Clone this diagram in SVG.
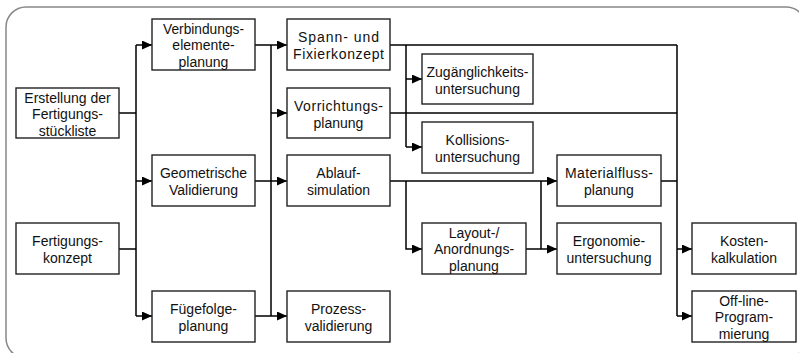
<svg xmlns="http://www.w3.org/2000/svg" width="799" height="353" viewBox="0 0 799 353">
<defs>
<marker id="ah" markerUnits="userSpaceOnUse" markerWidth="11" markerHeight="10" refX="10" refY="4.5" orient="auto">
<path d="M0,0 L10,4.5 L0,9 z" fill="#000"/>
</marker>
<style>
.n rect{fill:#fff;stroke:#222;stroke-width:1.4}
.n text{font-family:"Liberation Sans",Arial,sans-serif;font-size:14px;fill:#111;text-anchor:middle}
#conn path{fill:none;stroke:#000;stroke-width:1.5}
#conn .a{marker-end:url(#ah)}
</style>
</defs>
<rect x="6" y="7" width="800" height="351" rx="20" fill="#fff" stroke="#888" stroke-width="1.5"/>
<g id="conn">
<path d="M119 113 H136 M119 249 H136 M136 45 V316"/>
<path class="a" d="M136 45 H152"/>
<path class="a" d="M136 181 H152"/>
<path class="a" d="M136 316 H152"/>
<path d="M255 45 H271 M255 181 H271 M255 316 H271 M271 45 V316"/>
<path class="a" d="M271 45 H287"/>
<path class="a" d="M271 113 H287"/>
<path class="a" d="M271 181 H287"/>
<path class="a" d="M271 316 H287"/>
<path d="M390 45 H677 M390 113 H677 M406 45 V147"/>
<path class="a" d="M406 79 H422"/>
<path class="a" d="M406 147 H422"/>
<path class="a" d="M390 181 H557"/>
<path class="a" d="M406 181 V249 H422"/>
<path class="a" d="M526 249 H557"/>
<path d="M541 181 V249 M661 181 H677 M677 45 V316"/>
<path class="a" d="M677 249 H692"/>
<path class="a" d="M677 316 H692"/>
</g>
<g id="erstellung" class="n"><rect x="16" y="88" width="103" height="50"/><text x="67.5" y="102.5">Erstellung der<tspan x="67.5" y="119">Fertigungs-</tspan><tspan x="67.5" y="135.5">stückliste</tspan></text></g>
<g id="fertigungskonzept" class="n"><rect x="16" y="223" width="103" height="51"/><text x="67.5" y="246">Fertigungs-<tspan x="67.5" y="263">konzept</tspan></text></g>
<g id="verbindungs" class="n"><rect x="152" y="19" width="103" height="51"/><text x="203.5" y="33.5" textLength="81" lengthAdjust="spacingAndGlyphs">Verbindungs-</text><text x="203.5" y="50">elemente-</text><text x="203.5" y="66.5">planung</text></g>
<g id="geometrische" class="n"><rect x="152" y="155" width="103" height="51"/><text x="203.5" y="178">Geometrische<tspan x="203.5" y="195">Validierung</tspan></text></g>
<g id="fuegefolge" class="n"><rect x="152" y="291" width="103" height="51"/><text x="203.5" y="314">Fügefolge-<tspan x="203.5" y="331">planung</tspan></text></g>
<g id="spann" class="n"><rect x="287" y="19" width="103" height="51"/><text x="338.5" y="42" textLength="81" lengthAdjust="spacing">Spann- und</text><text x="338.5" y="59" textLength="91" lengthAdjust="spacing">Fixierkonzept</text></g>
<g id="vorrichtung" class="n"><rect x="287" y="88" width="103" height="50"/><text x="338.5" y="110.5" textLength="89" lengthAdjust="spacing">Vorrichtungs-</text><text x="338.5" y="127.5">planung</text></g>
<g id="ablauf" class="n"><rect x="287" y="155" width="103" height="51"/><text x="338.5" y="178">Ablauf-<tspan x="338.5" y="195">simulation</tspan></text></g>
<g id="prozess" class="n"><rect x="287" y="291" width="103" height="51"/><text x="338.5" y="314">Prozess-<tspan x="338.5" y="331">validierung</tspan></text></g>
<g id="zugaenglichkeit" class="n"><rect x="422" y="54" width="111" height="50"/><text x="477.5" y="76.5">Zugänglichkeits-<tspan x="477.5" y="93.5">untersuchung</tspan></text></g>
<g id="kollision" class="n"><rect x="422" y="122" width="111" height="51"/><text x="477.5" y="145">Kollisions-<tspan x="477.5" y="162">untersuchung</tspan></text></g>
<g id="layout" class="n"><rect x="422" y="223" width="104" height="51"/><text x="474" y="237.5">Layout-/<tspan x="474" y="254">Anordnungs-</tspan><tspan x="474" y="270.5">planung</tspan></text></g>
<g id="materialfluss" class="n"><rect x="557" y="155" width="104" height="51"/><text x="609" y="178" textLength="88" lengthAdjust="spacing">Materialfluss-</text><text x="609" y="195">planung</text></g>
<g id="ergonomie" class="n"><rect x="557" y="223" width="104" height="51"/><text x="609" y="246">Ergonomie-<tspan x="609" y="263">untersuchung</tspan></text></g>
<g id="kosten" class="n"><rect x="692" y="223" width="104" height="51"/><text x="744" y="246">Kosten-<tspan x="744" y="263">kalkulation</tspan></text></g>
<g id="offline" class="n"><rect x="692" y="291" width="104" height="51"/><text x="744" y="305.5">Off-line-<tspan x="744" y="322">Program-</tspan><tspan x="744" y="338.5">mierung</tspan></text></g>
</svg>
